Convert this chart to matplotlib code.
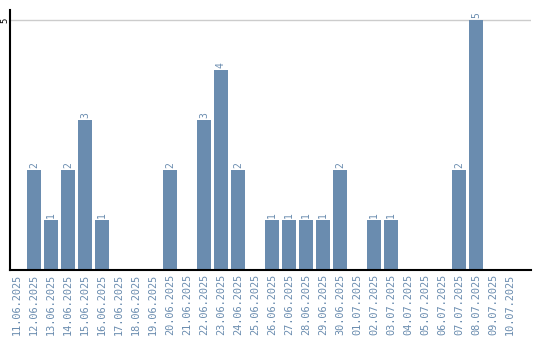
import matplotlib
matplotlib.use("Agg")
from matplotlib import pyplot as plt

dates = ["11.06.2025", "12.06.2025", "13.06.2025", "14.06.2025", "15.06.2025",
         "16.06.2025", "17.06.2025", "18.06.2025", "19.06.2025", "20.06.2025",
         "21.06.2025", "22.06.2025", "23.06.2025", "24.06.2025", "25.06.2025",
         "26.06.2025", "27.06.2025", "28.06.2025", "29.06.2025", "30.06.2025",
         "01.07.2025", "02.07.2025", "03.07.2025", "04.07.2025", "05.07.2025",
         "06.07.2025", "07.07.2025", "08.07.2025", "09.07.2025", "10.07.2025"]
counts = [0, 2, 1, 2, 3, 1, 0, 0, 0, 2,
          0, 3, 4, 2, 0, 1, 1, 1, 1, 2,
          0, 1, 1, 0, 0, 0, 2, 5, 0, 0]

bar_color = "#6a8caf"
font = "DejaVu Sans Mono"

fig = plt.figure(figsize=(5.4, 3.4), dpi=100)
ax = fig.add_axes([10 / 540, 1 - 270 / 340, 521 / 540, 260 / 340])

x = list(range(len(dates)))
ax.bar(x, counts, width=0.82, color=bar_color, zorder=2)

for i, v in enumerate(counts):
    if v > 0:
        ax.text(i, v + 0.04, str(v), rotation=90, ha="center", va="bottom",
                color=bar_color, fontsize=7, family=font)

ax.set_xlim(-0.41, 30.24)
ax.set_ylim(0, 5.2)
ax.axhline(5, color="#cccccc", lw=1, zorder=1)

ax.set_xticks(x)
ax.set_xticklabels(dates, rotation=90, color=bar_color, fontsize=7.4, family=font)
ax.set_yticks([5])
ax.set_yticklabels(["5"], rotation=90, va="center", fontsize=6.5, family=font)
ax.tick_params(axis="x", length=0, pad=3)
ax.tick_params(axis="y", length=0, pad=0.5)

for s in ["top", "right"]:
    ax.spines[s].set_visible(False)
ax.spines["left"].set_linewidth(1.5)
ax.spines["bottom"].set_linewidth(1.5)

fig.savefig("out.png", dpi=100)
